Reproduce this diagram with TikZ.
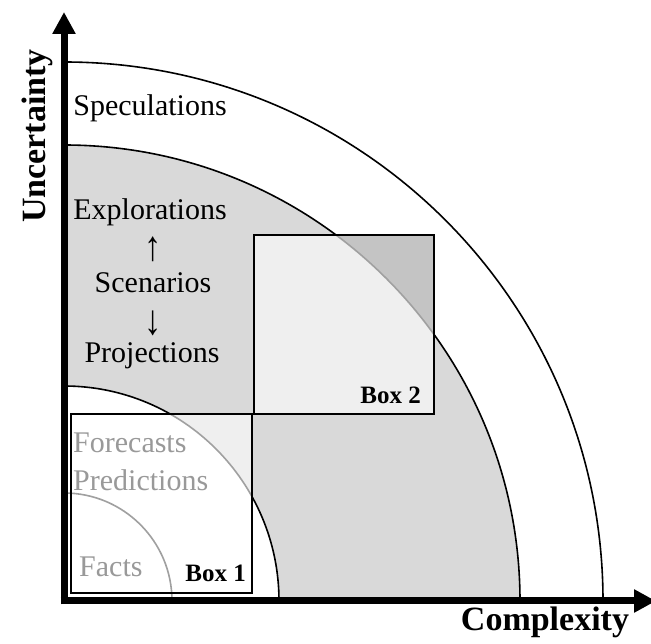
\documentclass[tikz,border=0pt]{standalone}
\usepackage{fontspec}
\setmainfont{Liberation Serif}
\usetikzlibrary{arrows.meta}
\definecolor{regiongray}{HTML}{D9D9D9}
\definecolor{lightbox}{HTML}{EFEFEF}
\definecolor{darkbox}{HTML}{C4C4C4}
\definecolor{softline}{HTML}{A0A0A0}
\definecolor{softtext}{HTML}{999999}
\tikzset{
  lbl/.style={inner sep=0pt, font=\fontsize{30}{32}\selectfont},
  softlbl/.style={lbl, text=softtext},
  boxlbl/.style={inner sep=0pt, font=\fontsize{25}{27}\selectfont\bfseries},
  axislbl/.style={inner sep=0pt, font=\fontsize{34}{36}\selectfont\bfseries},
  arcline/.style={line width=1.6pt},
  boxline/.style={line width=1.6pt},
  axisline/.style={line width=7pt, -{Triangle[width=22pt,length=22pt]}}
}
\begin{document}
\begin{tikzpicture}[x=1pt,y=1pt]
\useasboundingbox (0,0) rectangle (651,643);
\coordinate (O) at (64,42);
% gray region
\fill[regiongray] (O) -- ++(456,0) arc[start angle=0,end angle=90,radius=456] -- cycle;
\fill[white] (O) -- ++(215,0) arc[start angle=0,end angle=90,radius=215] -- cycle;
% arcs
\draw[arcline] (O) ++(539,0) arc[start angle=0,end angle=90,radius=539];
\draw[arcline] (O) ++(456,0) arc[start angle=0,end angle=90,radius=456];
\draw[arcline] (O) ++(215,0) arc[start angle=0,end angle=90,radius=215];
\draw[arcline, softline] (O) ++(108,0) arc[start angle=0,end angle=90,radius=108];
% Box 2
\fill[lightbox] (254,229) rectangle (434,408);
\begin{scope}
  \clip (254,229) rectangle (434,408);
  \fill[darkbox, even odd rule] (254,229) rectangle (434,408) (O) circle[radius=456];
  \draw[arcline, softline] (O) ++(456,0) arc[start angle=0,end angle=90,radius=456];
\end{scope}
\draw[boxline] (254,229) rectangle (434,408);
% Box 1
\fill[white] (71,50) rectangle (252,229);
\begin{scope}
  \clip (71,50) rectangle (252,229);
  \fill[lightbox, even odd rule] (O) circle[radius=456] (O) circle[radius=215];
  \draw[arcline, softline] (O) ++(215,0) arc[start angle=0,end angle=90,radius=215];
  \draw[arcline, softline] (O) ++(108,0) arc[start angle=0,end angle=90,radius=108];
\end{scope}
\draw[boxline] (71,50) rectangle (252,229);
% axes
\coordinate (xstart) at (60.5,42);
\coordinate (xend) at (656,42);
\coordinate (ystart) at (64,38.5);
\coordinate (yend) at (64,631);
\draw[axisline] (xstart) -- (xend);
\draw[axisline] (ystart) -- (yend);
% labels
\node[lbl] (spec) at (150,535) {Speculations};
\node[lbl] (expl) at (150,431) {Explorations};
\node[lbl] (up) at (153,394) {\scalebox{1.15}[1.4]{↑}};
\node[lbl] (scen) at (153,360) {Scenarios};
\node[lbl] (down) at (153,320) {\scalebox{1.15}[1.4]{↓}};
\node[lbl] (proj) at (152,287) {Projections};
\node[softlbl, anchor=west] (fore) at (73,200) {Forecasts};
\node[softlbl, anchor=west] (pred) at (73,163) {Predictions};
\node[softlbl, anchor=west] (facts) at (79,76) {Facts};
\node[boxlbl, anchor=east] (b1) at (246,70) {Box 1};
\node[boxlbl, anchor=east] (b2) at (421,248) {Box 2};
\node[axislbl] (cx) at (545,21) {Complexity};
\node[axislbl, rotate=90] (unc) at (37,507) {Uncertainty};
\end{tikzpicture}
\end{document}
